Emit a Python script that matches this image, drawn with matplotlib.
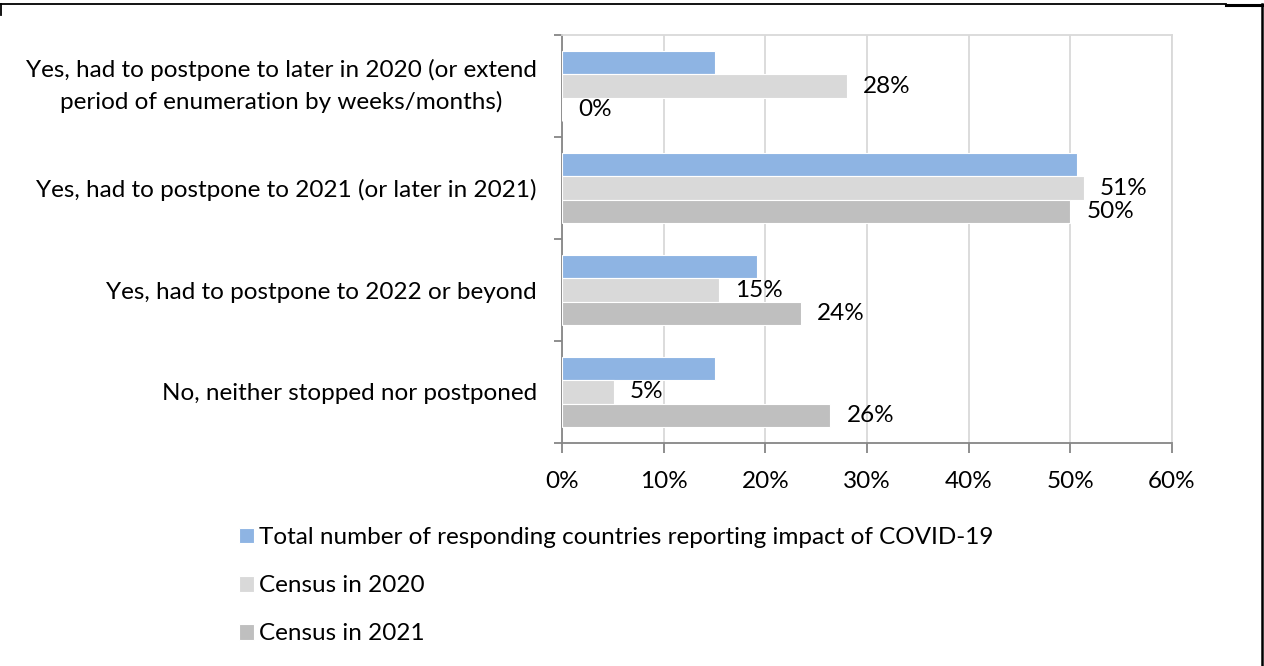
import numpy as np
import matplotlib.pyplot as plt
from matplotlib.lines import Line2D
from matplotlib.ticker import FixedLocator, PercentFormatter

plt.rcParams["font.family"] = ["Lato", "DejaVu Sans"]

categories = [
    "Yes, had to postpone to later in 2020 (or extend\nperiod of enumeration by weeks/months)",
    "Yes, had to postpone to 2021 (or later in 2021)",
    "Yes, had to postpone to 2022 or beyond",
    "No, neither stopped nor postponed",
]
series_names = [
    "Total number of responding countries reporting impact of COVID-19",
    "Census in 2020",
    "Census in 2021",
]
total_resp = [0.150, 0.507, 0.192, 0.150]
census_2020 = [0.280, 0.513, 0.154, 0.051]
census_2021 = [0.000, 0.500, 0.235, 0.264]
series_colors = ["#8EB4E3", "#D9D9D9", "#BFBFBF"]
labelled = [False, True, True]

W, H = 1264, 666
fig = plt.figure(figsize=(W / 100, H / 100), dpi=100)
ax = fig.add_axes([562 / W, 1 - 443 / H, (1172 - 562) / W, (443 - 35) / H])

FS = 17.5
y = np.arange(len(categories))
step = 0.23
for k, (vals, col, name) in enumerate(zip([total_resp, census_2020, census_2021],
                                           series_colors, series_names)):
    pos = y + (k - 1) * step
    bars = ax.barh(pos, vals, height=step, color=col, edgecolor="white",
                   linewidth=0.8, label=name, zorder=3)
    if labelled[k]:
        for b, v in zip(bars, vals):
            ax.annotate(f"{v * 100:.0f}%", (v, b.get_y() + b.get_height() / 2),
                        xytext=(16, 0), textcoords="offset pixels",
                        ha="left", va="center", fontsize=FS, color="black")

ax.set_xlim(0, 0.6)
ax.set_ylim(len(categories) - 0.5, -0.5)
ax.xaxis.set_major_locator(FixedLocator(np.arange(0, 0.61, 0.1)))
ax.xaxis.set_major_formatter(PercentFormatter(1.0, decimals=0))
ax.grid(axis="x", color="#D9D9D9", linewidth=1.3, zorder=0)

# boundary ticks on the category axis, labels sit at the centres
ax.yaxis.set_major_locator(FixedLocator(np.arange(-0.5, len(categories), 1.0)))
ax.yaxis.set_major_formatter(plt.NullFormatter())
ax.yaxis.set_minor_locator(FixedLocator(y))
ax.set_yticklabels(categories, minor=True)
ax.tick_params(axis="y", which="minor", length=0, pad=18, labelsize=FS)
ax.tick_params(axis="y", which="major", length=6, width=1.3, color="#868686",
               direction="out")
ax.tick_params(axis="x", length=7, width=1.3, color="#868686", direction="out",
               pad=13, labelsize=FS)
for t in ax.get_yticklabels(minor=True):
    t.set_multialignment("center")
    t.set_linespacing(1.55)
    if "\n" in t.get_text():
        t.set_verticalalignment("center")

for s in ("top", "right"):
    ax.spines[s].set_color("#D9D9D9")
    ax.spines[s].set_linewidth(1.3)
for s in ("left", "bottom"):
    ax.spines[s].set_color("#868686")
    ax.spines[s].set_linewidth(1.3)

handles, labels = ax.get_legend_handles_labels()
fig.legend(handles, labels, loc="upper left", bbox_to_anchor=(239 / W, 1 - 527 / H),
           frameon=False, ncol=1, fontsize=FS, handlelength=0.62, handleheight=0.62,
           handletextpad=0.22, labelspacing=1.12, borderaxespad=0, borderpad=0)

# page frame around the figure
lk = dict(color="black", transform=fig.transFigure)
fig.add_artist(Line2D([0, 1226 / W], [1 - 3.5 / H] * 2, linewidth=1.3, **lk))
fig.add_artist(Line2D([1226 / W, 1262 / W], [1 - 4.5 / H] * 2, linewidth=2.2, **lk))
fig.add_artist(Line2D([1262 / W] * 2, [1 - 3.5 / H, 0], linewidth=1.8, **lk))
fig.add_artist(Line2D([0.8 / W] * 2, [1 - 3.5 / H, 1 - 15 / H], linewidth=1.3, **lk))

fig.savefig("out.png", dpi=100)
